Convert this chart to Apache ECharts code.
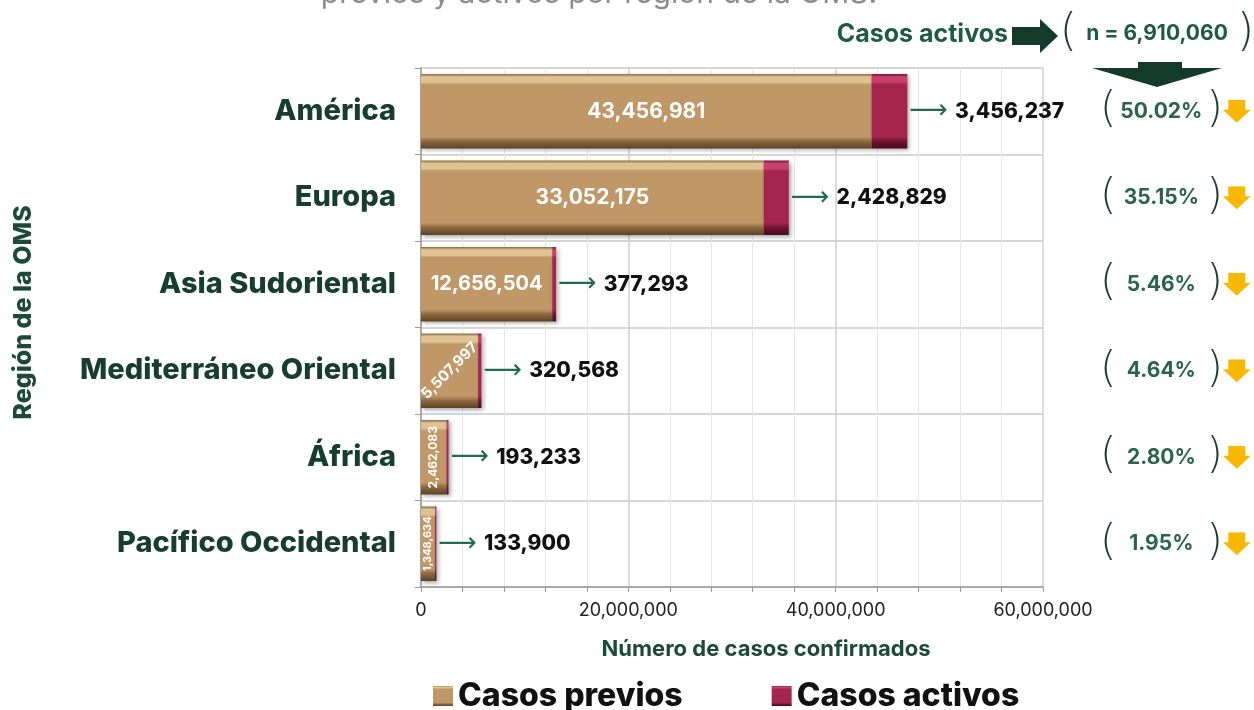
<!DOCTYPE html>
<html>
<head>
<meta charset="utf-8">
<script src="https://cdn.jsdelivr.net/npm/echarts@6/dist/echarts.min.js"></script>
<style>
    html, body { margin: 0; padding: 0; background: #ffffff; overflow: hidden; }
    #grafica { width: 1254px; height: 710px; }
</style>
</head>
<body>
<div id="grafica"></div>
<script>
//datos del grafico
var regiones = ['América', 'Europa', 'Asia Sudoriental', 'Mediterráneo Oriental', 'África', 'Pacífico Occidental'];
var casosPrevios = [43456981, 33052175, 12656504, 5507997, 2462083, 1348634];
var casosActivos = [3456237, 2428829, 377293, 320568, 193233, 133900];
var porcentajes = ['50.02%', '35.15%', '5.46%', '4.64%', '2.80%', '1.95%'];
var ejeX = [0, 20000000, 40000000, 60000000];

//estilos de las etiquetas dentro de la barra
var giroEtiqueta = [0, 0, 0, 45, 90, 90];
var tamEtiqueta = [21, 21, 20, 15, 12, 11];

var fuente = 'Inter, "Noto Sans", sans-serif';
var verde = '#1d4a38';

//flecha amarilla de los porcentajes
var flechaAmarilla = 'data:image/svg+xml;utf8,' + encodeURIComponent(
    '<svg xmlns="http://www.w3.org/2000/svg" width="28" height="23">' +
    '<polygon points="5.5,0 22.5,0 22.5,10 28,10 14,23 0,10 5.5,10" fill="#f8b800"/></svg>');

function formato(n) {
    return n.toLocaleString('en-US');
}

//degradado para simular el bisel de las barras
function bisel(claro, medio, oscuro, borde) {
    return new echarts.graphic.LinearGradient(0, 0, 0, 1, [
        {offset: 0, color: oscuro},
        {offset: 0.04, color: claro},
        {offset: 0.11, color: claro},
        {offset: 0.14, color: medio},
        {offset: 0.84, color: medio},
        {offset: 0.9, color: oscuro},
        {offset: 1, color: borde}
    ]);
}

function renderGrafico() {
    var grafico = echarts.init(document.getElementById('grafica'));

    var totalActivos = 0;
    casosActivos.forEach(function(v){ totalActivos += v; });

    var datosPrevios = [];
    casosPrevios.forEach(function(valor, i){
        datosPrevios.push({
            value: valor,
            label: {rotate: giroEtiqueta[i], fontSize: tamEtiqueta[i]}
        });
    });

    var option = {
        animation: false,
        grid: {left: 421, right: 211, top: 68, bottom: 123, outerBoundsMode: 'none'},
        legend: {
            left: 428,
            top: 675,
            itemWidth: 20,
            itemHeight: 20,
            itemGap: 89,
            icon: 'rect',
            textStyle: {fontFamily: fuente, fontSize: 32, fontWeight: 800, color: '#111'},
            data: ['Casos previos', 'Casos activos']
        },
        xAxis: {
            type: 'value',
            min: ejeX[0],
            max: ejeX[ejeX.length - 1],
            interval: ejeX[1] - ejeX[0],
            name: 'Número de casos confirmados',
            nameLocation: 'middle',
            nameGap: 51,
            nameTextStyle: {fontFamily: fuente, fontSize: 22, fontWeight: 700, color: verde, padding: [0, 0, 0, 68]},
            axisLine: {show: true, lineStyle: {color: '#9a9a9a', width: 1.5}},
            axisTick: {show: true, length: 5, lineStyle: {color: '#9a9a9a'}},
            minorTick: {show: true, splitNumber: 5, length: 5, lineStyle: {color: '#9a9a9a'}},
            axisLabel: {
                fontFamily: fuente, fontSize: 18, color: '#222', margin: 15,
                formatter: function(v){ return formato(v); }
            },
            splitLine: {show: true, lineStyle: {color: '#cfcfcf', width: 1.5}},
            minorSplitLine: {show: true, lineStyle: {color: '#e6e6e6', width: 1}}
        },
        yAxis: [
            {
                type: 'category',
                inverse: true,
                data: regiones,
                name: 'Región de la OMS',
                nameLocation: 'middle',
                nameGap: 385,
                nameRotate: 90,
                nameTextStyle: {fontFamily: fuente, fontSize: 25, fontWeight: 800, color: verde, padding: [0, 0, 0, 30]},
                axisLine: {show: true, lineStyle: {color: '#9a9a9a', width: 1.5}},
                axisTick: {show: true, length: 6, lineStyle: {color: '#9a9a9a'}},
                axisLabel: {fontFamily: fuente, fontSize: 29, fontWeight: 800, color: '#173d2e', margin: 25},
                splitLine: {show: true, lineStyle: {color: '#c8c8c8', width: 1.5}}
            },
            {
                type: 'category',
                inverse: true,
                position: 'right',
                data: regiones,
                axisLine: {show: false},
                axisTick: {show: false},
                axisLabel: {
                    margin: 57,
                    formatter: function(v, i){
                        return '{b|(}{p|' + porcentajes[i] + '}{b|)}{a|}';
                    },
                    rich: {
                        b: {fontFamily: '"DejaVu Sans"', fontSize: 42, fontWeight: 200, color: '#1d3a2e'},
                        p: {fontFamily: fuente, fontSize: 21, fontWeight: 700, color: '#2b634b', width: 90, align: 'center'},
                        a: {width: 28, height: 23, backgroundColor: {image: flechaAmarilla}}
                    }
                }
            }
        ],
        series: [
            {
                name: 'Casos previos',
                type: 'bar',
                stack: 'total',
                barWidth: '86%',
                itemStyle: {
                    color: bisel('#e0c392', '#c09766', '#8e6b42', '#5c4226'),
                    shadowBlur: 4, shadowColor: 'rgba(0,0,0,0.35)', shadowOffsetX: 2, shadowOffsetY: 2
                },
                label: {
                    show: true,
                    position: 'inside',
                    fontFamily: fuente,
                    fontWeight: 700,
                    color: '#ffffff',
                    formatter: function(p){ return formato(p.value); }
                },
                data: datosPrevios
            },
            {
                name: 'Casos activos',
                type: 'bar',
                stack: 'total',
                barWidth: '86%',
                itemStyle: {
                    color: bisel('#c8416c', '#a5254f', '#711533', '#4a0b1f'),
                    shadowBlur: 4, shadowColor: 'rgba(0,0,0,0.35)', shadowOffsetX: 2, shadowOffsetY: 2
                },
                label: {
                    show: true,
                    position: 'right',
                    distance: 2,
                    formatter: function(p){ return '{f|⟶}{v|' + formato(p.value) + '}'; },
                    rich: {
                        f: {fontFamily: '"DejaVu Sans"', fontSize: 27, color: '#236b50', padding: [0, 7, 0, 0]},
                        v: {fontFamily: fuente, fontSize: 21, fontWeight: 800, color: '#111'}
                    }
                },
                data: casosActivos
            }
        ],
        graphic: [
            {
                type: 'text',
                style: {
                    x: 599, y: -6, text: 'previos y activos por región de la OMS.',
                    textAlign: 'center', textVerticalAlign: 'middle',
                    font: '30px ' + fuente, fill: '#8c8c8c'
                }
            },
            {
                type: 'text',
                style: {
                    x: 1008, y: 34, text: 'Casos activos',
                    textAlign: 'right', textVerticalAlign: 'middle',
                    font: '700 25px ' + fuente, fill: '#1f5a42'
                }
            },
            {
                type: 'polygon',
                shape: {points: [[1012, 27], [1040, 27], [1040, 19], [1058, 36], [1040, 53], [1040, 45], [1012, 45]]},
                style: {fill: '#133a2b'}
            },
            {
                type: 'text',
                style: {
                    x: 1157, y: 34, text: '{b|(}{n|n = ' + formato(totalActivos) + '}{b|)}',
                    textAlign: 'center', textVerticalAlign: 'middle',
                    rich: {
                        b: {fontFamily: '"DejaVu Sans"', fontSize: 44, fontWeight: 200, fill: '#1d3a2e'},
                        n: {fontFamily: fuente, fontSize: 21, fontWeight: 700, fill: '#1f5a42', width: 160, align: 'center'}
                    }
                }
            },
            {
                type: 'polygon',
                shape: {points: [[1138, 62], [1182, 62], [1182, 68], [1222, 68], [1157, 87], [1092, 68], [1138, 68]]},
                style: {fill: '#133a2b'}
            }
        ]
    };

    grafico.setOption(option, true);
}

renderGrafico();
</script>
</body>
</html>
